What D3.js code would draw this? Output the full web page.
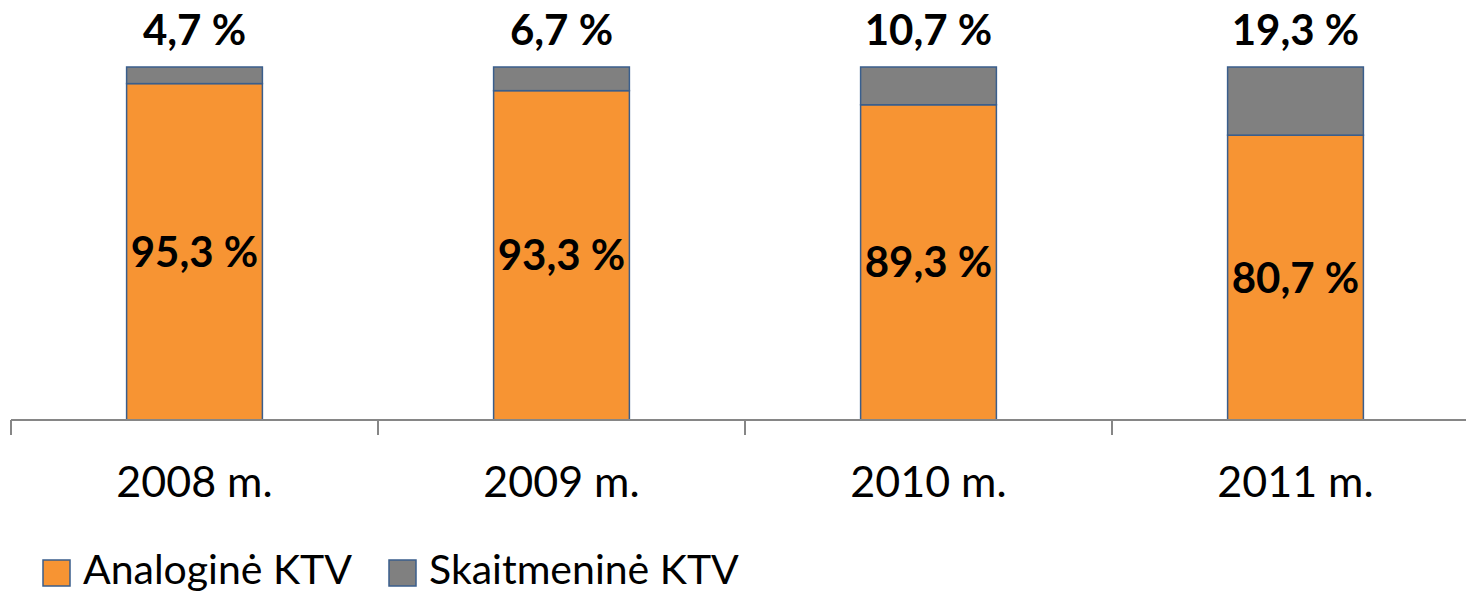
<!DOCTYPE html>
<html><head><meta charset="utf-8">
<script src="https://cdn.jsdelivr.net/npm/d3@7"></script>
<style>html,body{margin:0;padding:0;background:#fff;}svg{display:block;}</style>
</head><body>
<svg id="chart" width="1466" height="594"></svg>
<script>
const categories = ["2008 m.", "2009 m.", "2010 m.", "2011 m."];
const analog = [95.3, 93.3, 89.3, 80.7];
const digital = [4.7, 6.7, 10.7, 19.3];
const seriesNames = ["Analoginė KTV", "Skaitmeninė KTV"];
const colors = ["#F79433", "#808080"];

const svg = d3.select("#chart");
const font = "Lato, 'Open Sans', sans-serif";

const x = d3.scaleBand().domain(categories).range([11, 1479]).paddingInner(0.63).paddingOuter(0.315);
const y = d3.scaleLinear().domain([0, 100]).range([420, 67]);

const data = categories.map((c, i) => ({c, a: analog[i], d: digital[i]}));

// bars
const g = svg.append("g");
data.forEach(dd => {
  g.append("rect").attr("x", x(dd.c)).attr("width", x.bandwidth())
    .attr("y", y(dd.a)).attr("height", y(0) - y(dd.a))
    .attr("fill", colors[0]).attr("stroke", "#3A5E8C").attr("stroke-width", 1.5);
  g.append("rect").attr("x", x(dd.c)).attr("width", x.bandwidth())
    .attr("y", y(dd.a + dd.d)).attr("height", y(dd.a) - y(dd.a + dd.d))
    .attr("fill", colors[1]).attr("stroke", "#3A5E8C").attr("stroke-width", 1.5);
});

const fmt = v => String(v.toFixed(1)).replace(".", ",") + " %";

// labels
data.forEach(dd => {
  const cx = x(dd.c) + x.bandwidth() / 2;
  svg.append("text").attr("x", cx).attr("y", 45)
    .attr("text-anchor", "middle").attr("font-family", font).attr("font-weight", 700)
    .attr("font-size", 42).attr("fill", "#000").text(fmt(dd.d));
  const mid = (y(0) + y(dd.a)) / 2;
  svg.append("text").attr("x", cx).attr("y", mid + 15)
    .attr("text-anchor", "middle").attr("font-family", font).attr("font-weight", 700)
    .attr("font-size", 42).attr("fill", "#000").text(fmt(dd.a));
});

// axis
const axisColor = "#868686";
svg.append("line").attr("x1", 11).attr("x2", 1479).attr("y1", y(0)).attr("y2", y(0))
  .attr("stroke", axisColor).attr("stroke-width", 2);
const gap = (x.step() - x.bandwidth()) / 2;
const bounds = categories.map(c => x(c) - gap).concat([x(categories[categories.length - 1]) + x.bandwidth() + gap]);
bounds.forEach(b => {
  svg.append("line").attr("x1", b).attr("x2", b).attr("y1", y(0)).attr("y2", y(0) + 15)
    .attr("stroke", axisColor).attr("stroke-width", 2);
});
categories.forEach(c => {
  svg.append("text").attr("x", x(c) + x.bandwidth() / 2).attr("y", 497)
    .attr("text-anchor", "middle").attr("font-family", font)
    .attr("font-size", 43).attr("fill", "#000").text(c);
});

// legend
const legendX = [43, 389];
seriesNames.forEach((n, i) => {
  svg.append("rect").attr("x", legendX[i]).attr("y", 560).attr("width", 27).attr("height", 26)
    .attr("fill", colors[i]).attr("stroke", "#3A5E8C").attr("stroke-width", 1.5);
  svg.append("text").attr("x", legendX[i] + 40).attr("y", 584)
    .attr("font-family", font).attr("font-size", 41).attr("fill", "#000").text(n);
});
</script>
</body></html>
